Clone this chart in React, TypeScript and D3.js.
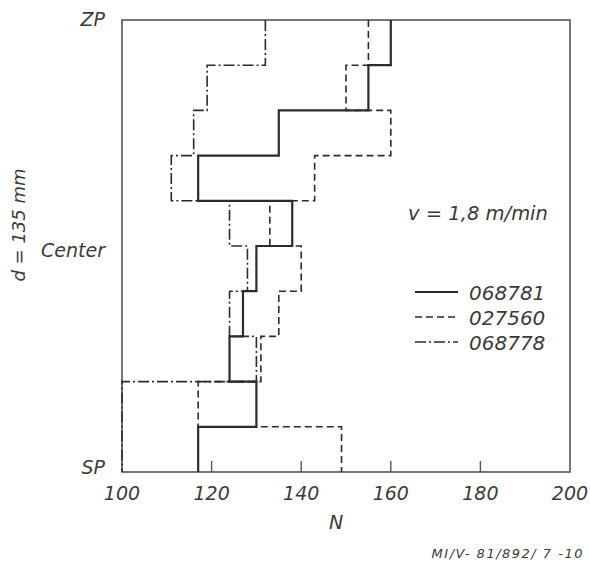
import React, { useEffect, useRef } from 'react';
import * as d3 from 'd3';

// N values per layer, from ZP (top) down to SP (bottom)
const layers = [0, 1, 2, 3, 4, 5, 6, 7, 8, 9];
const series068781 = [160, 155, 135, 117, 138, 130, 127, 124, 130, 117];
const series027560 = [155, 150, 160, 143, 133, 140, 135, 131, 117, 149];
const series068778 = [132, 119, 116, 111, 124, 128, 124, 130, 100, 100];
const seriesNames = ['068781', '027560', '068778'];
const xTicks = [100, 120, 140, 160, 180, 200];
const positionLabels = ['ZP', 'Center', 'SP'];

const dashes = ['none', '7,4', '11,3,2,3'];
const widths = [2.2, 1.6, 1.6];

const App = () => {
    const svgRef = useRef<SVGSVGElement>(null);

    useEffect(() => {
        const width = 590;
        const height = 564;
        const margin = { top: 20, right: 20, bottom: 92, left: 122 };

        const svg = d3.select(svgRef.current);
        svg.selectAll('*').remove();
        svg.attr('width', width).attr('height', height);

        const font = 'DejaVu Sans, sans-serif';
        const ink = '#3a3a3a';

        const xScale = d3
            .scaleLinear()
            .domain([100, 200])
            .range([margin.left, width - margin.right]);

        const yScale = d3
            .scaleLinear()
            .domain([0, layers.length])
            .range([margin.top, height - margin.bottom]);

        const all = [series068781, series027560, series068778];

        // frame
        svg
            .append('rect')
            .attr('x', xScale(100))
            .attr('y', yScale(0))
            .attr('width', xScale(200) - xScale(100))
            .attr('height', yScale(layers.length) - yScale(0))
            .attr('fill', 'none')
            .attr('stroke', '#555')
            .attr('stroke-width', 1.6);

        // step profiles
        const line = d3
            .line<[number, number]>()
            .x(d => xScale(d[0]))
            .y(d => yScale(d[1]));

        all.forEach((vals, k) => {
            const pts: [number, number][] = [];
            layers.forEach(i => {
                pts.push([vals[i], i]);
                pts.push([vals[i], i + 1]);
            });
            svg
                .append('path')
                .attr('d', line(pts))
                .attr('fill', 'none')
                .attr('stroke', '#2b2b2b')
                .attr('stroke-width', widths[k])
                .attr('stroke-dasharray', dashes[k]);
        });

        // inner ticks on bottom axis
        svg
            .selectAll('.tick-mark')
            .data(xTicks.slice(1, -1))
            .enter()
            .append('line')
            .attr('x1', d => xScale(d))
            .attr('x2', d => xScale(d))
            .attr('y1', yScale(layers.length))
            .attr('y2', yScale(layers.length) - 11)
            .attr('stroke', '#555')
            .attr('stroke-width', 1.4);

        svg
            .selectAll('.tick-label')
            .data(xTicks)
            .enter()
            .append('text')
            .attr('x', d => xScale(d))
            .attr('y', 500)
            .attr('text-anchor', 'middle')
            .style('font-family', font)
            .style('font-style', 'italic')
            .style('font-size', '19px')
            .style('fill', ink)
            .text(d => d);

        svg
            .append('text')
            .attr('x', 336)
            .attr('y', 529)
            .attr('text-anchor', 'middle')
            .style('font-family', font)
            .style('font-style', 'italic')
            .style('font-size', '19px')
            .style('fill', ink)
            .text('N');

        // position labels on the left
        const labelY = [yScale(0) + 6, yScale(layers.length / 2) + 11, yScale(layers.length) + 2];
        positionLabels.forEach((t, i) => {
            svg
                .append('text')
                .attr('x', 105)
                .attr('y', labelY[i])
                .attr('text-anchor', 'end')
                .style('font-family', font)
                .style('font-style', 'italic')
                .style('font-size', '19px')
                .style('fill', ink)
                .text(t);
        });

        svg
            .append('text')
            .attr('transform', 'translate(25, 225) rotate(-90)')
            .attr('text-anchor', 'middle')
            .style('font-family', font)
            .style('font-style', 'italic')
            .style('font-size', '18px')
            .style('fill', ink)
            .text('d = 135 mm');

        svg
            .append('text')
            .attr('x', 478)
            .attr('y', 220)
            .attr('text-anchor', 'middle')
            .style('font-family', font)
            .style('font-style', 'italic')
            .style('font-size', '19.5px')
            .style('fill', ink)
            .text('v = 1,8 m/min');

        // legend
        seriesNames.forEach((name, k) => {
            const ly = 292 + k * 25;
            svg
                .append('line')
                .attr('x1', 415)
                .attr('x2', 458)
                .attr('y1', ly)
                .attr('y2', ly)
                .attr('stroke', '#2b2b2b')
                .attr('stroke-width', widths[k])
                .attr('stroke-dasharray', dashes[k]);
            svg
                .append('text')
                .attr('x', 469)
                .attr('y', ly + 8)
                .style('font-family', font)
                .style('font-style', 'italic')
                .style('font-size', '20px')
                .style('fill', ink)
                .text(name);
        });

        svg
            .append('text')
            .attr('x', 584)
            .attr('y', 558)
            .attr('text-anchor', 'end')
            .style('font-family', font)
            .style('font-style', 'italic')
            .style('font-size', '13px')
            .style('letter-spacing', '1.5px')
            .style('fill', ink)
            .text('MI/V- 81/892/ 7 -10');
    }, []);

    return <svg ref={svgRef} style={{ position: 'absolute', left: 0, top: 0, background: '#fff' }}></svg>;
};

export default App;
